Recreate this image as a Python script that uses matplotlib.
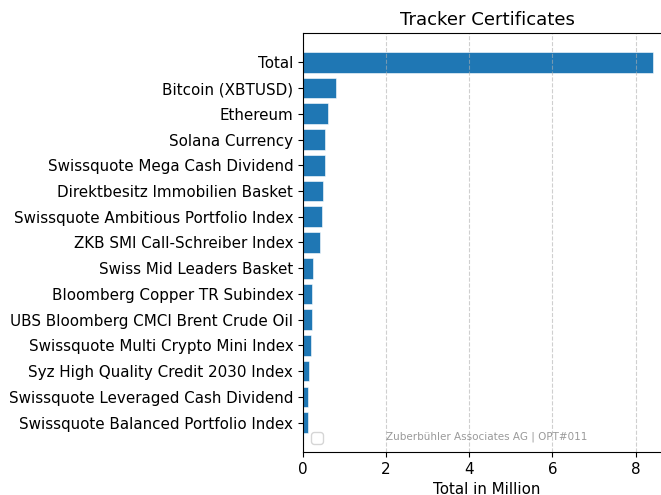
import matplotlib
matplotlib.use("Agg")
import matplotlib.pyplot as plt

# values (in million)
names = [
    "Total",
    "Bitcoin (XBTUSD)",
    "Ethereum",
    "Solana Currency",
    "Swissquote Mega Cash Dividend",
    "Direktbesitz Immobilien Basket",
    "Swissquote Ambitious Portfolio Index",
    "ZKB SMI Call-Schreiber Index",
    "Swiss Mid Leaders Basket",
    "Bloomberg Copper TR Subindex",
    "UBS Bloomberg CMCI Brent Crude Oil",
    "Swissquote Multi Crypto Mini Index",
    "Syz High Quality Credit 2030 Index",
    "Swissquote Leveraged Cash Dividend",
    "Swissquote Balanced Portfolio Index",
]
totals = [8.43, 0.80, 0.60, 0.54, 0.52, 0.47, 0.46, 0.42,
          0.23, 0.21, 0.21, 0.185, 0.15, 0.13, 0.13]

plt.rcParams["font.size"] = 10.87

fig = plt.figure(figsize=(6.61, 4.95), dpi=100)
ax = fig.add_axes([0.4584, 0.0869, 0.5567, 0.8465])

ax.barh(names[::-1], totals[::-1], color="#1f77b4", edgecolor="white", linewidth=0.4)
ax.grid(axis="x", linestyle="--", alpha=0.6)
ax.set_title("Tracker Certificates")
ax.set_xlabel("Total in Million")
ax.legend(loc="lower left")
ax.text(0.5, 0.036, "Zuberbühler Associates AG | OPT#011", transform=ax.transAxes,
        ha="center", va="center", fontsize=7.5, color="gray", alpha=0.8)

fig.savefig("out.png", dpi=100)
